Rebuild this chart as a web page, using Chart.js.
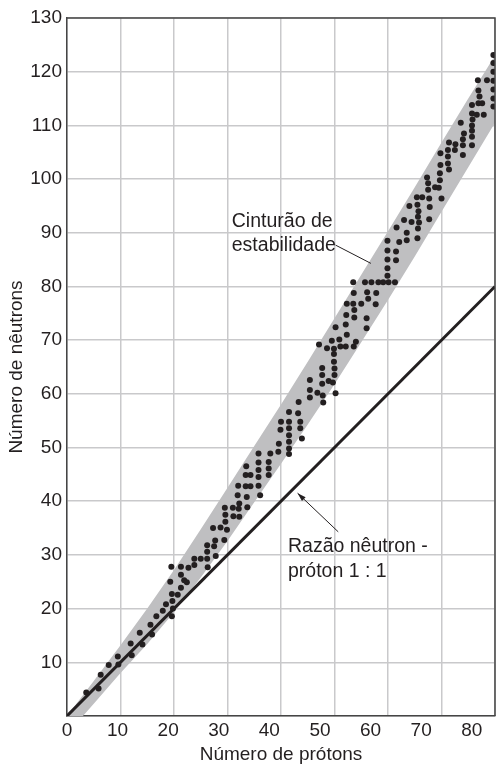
<!DOCTYPE html>
<html>
<head>
<meta charset="utf-8">
<script src="https://cdn.jsdelivr.net/npm/chart.js@4.4.1/dist/chart.umd.min.js"></script>
<style>
    html, body { margin: 0; padding: 0; background: #fff; }
</style>
</head>
<body>
<canvas id="chart" width="499" height="764"></canvas>
<script>
// stable nuclides (protons, neutrons)
const protons = [
    3.6, 5.9, 6.3, 7.8, 9.5, 9.6, 11.9, 12.1, 13.6, 14.1, 15.6, 15.9, 16.7, 17.9, 18.5, 19.6, 19.8, 19.7, 19.6, 20.7,
    19.3, 19.5, 21.3, 21.3, 21.9, 22.4, 21.3, 22.7,
    23.8, 23.8, 25.0, 26.2, 26.3, 27.8, 26.2, 27.5, 26.2, 27.7, 29.4, 27.3, 28.7, 29.9, 29.6, 29.6, 29.5, 31.0,
    31.1, 32.2, 32.1, 32.2, 33.7, 33.6, 31.9, 32.0, 33.4, 34.3, 33.4, 33.5, 34.3,
    35.8, 36.1, 35.8, 35.8, 35.8, 35.8, 37.7, 37.7, 37.7, 38.0, 39.5, 39.6, 39.9, 40.0, 41.5, 41.5, 41.5, 41.5,
    41.5, 41.5, 41.5, 43.2, 43.6, 43.6, 43.9, 43.3,
    45.4, 45.4, 45.4, 46.8, 47.9, 47.8, 47.7, 47.7, 47.7, 48.9, 49.7, 50.2, 50.0, 50.0, 49.9, 49.9, 49.9, 48.6,
    47.1, 49.5, 51.1, 52.1, 50.9, 52.3, 53.6, 54.0, 50.2, 52.1, 56.0, 52.2, 53.7, 56.0, 53.7, 52.3, 53.5, 55.0,
    57.7, 56.3, 56.1, 57.8, 53.6, 53.5, 55.7, 56.9, 58.2, 59.1, 60.1, 61.3, 59.9, 59.9, 59.9, 59.9, 59.9, 61.5, 61.5,
    62.1, 63.5, 61.6, 63.5, 63.0, 64.4, 65.5, 65.6, 65.8, 65.6, 65.7, 65.5, 64.0, 65.4, 66.4, 67.7, 67.8, 67.7,
    67.5, 67.5, 67.3, 68.8, 69.5, 70.0, 69.7, 69.7, 69.8, 69.8, 71.4, 71.2, 71.2, 71.2, 71.4, 72.5, 72.6, 74.0,
    74.0, 74.0, 74.2, 75.7, 75.7, 75.7, 75.7, 73.6, 75.8, 75.7, 76.6, 77.9, 75.7, 76.9, 77.6, 79.7, 77.1, 76.9,
    76.8, 78.5, 79.7, 79.7, 79.7, 79.7, 79.7, 79.7
]
const neutrons = [
    4.4, 5.1, 7.7, 9.5, 11.1, 9.6, 13.5, 11.3, 15.5, 13.3, 17.0, 15.2, 18.6, 19.6, 20.8, 18.6, 20.0, 21.4, 22.7, 22.6,
    25.0, 27.8, 27.8, 26.3, 25.3, 24.9, 23.9, 27.6,
    28.1, 29.3, 29.3, 29.3, 27.7, 29.8, 30.6, 31.6, 31.8, 32.7, 32.8, 35.0, 35.1, 34.7, 36.2, 37.5, 38.8, 38.8,
    37.2, 37.1, 38.6, 39.6, 38.9, 40.8, 41.1, 42.9, 42.8, 42.8, 44.9, 46.5, 44.9,
    42.9, 41.1, 44.5, 45.8, 47.2, 48.9, 44.9, 46.1, 47.3, 48.9, 49.2, 50.7, 53.3, 54.8, 56.6, 54.8, 53.6, 52.3,
    51.1, 49.8, 48.8, 56.4, 54.8, 53.6, 51.7, 58.5,
    59.3, 60.7, 62.6, 60.2, 58.4, 59.7, 61.9, 63.5, 64.8, 62.4, 62.1, 60.1, 63.5, 64.7, 66.0, 67.4, 68.4, 68.5,
    69.2, 69.9, 68.8, 68.8, 70.1, 71.0, 68.8, 69.7, 72.4, 72.9, 72.2, 74.7, 74.2, 74.1, 75.6, 76.8, 76.8, 76.8,
    76.7, 77.7, 78.9, 78.8, 78.8, 80.8, 80.8, 80.8, 80.8, 80.8, 80.8, 80.8, 82.0, 83.4, 85.0, 86.7, 88.5, 84.9, 86.5,
    88.3, 88.6, 91.0, 90.0, 92.4, 92.0, 89.0, 90.8, 91.9, 93.0, 94.0, 95.2, 95.0, 96.6, 96.6, 92.5, 94.8, 96.4,
    98.0, 99.2, 100.3, 98.5, 98.4, 96.4, 99.8, 101.1, 102.6, 104.8, 101.8, 102.9, 104.2, 105.4, 106.8, 105.4, 106.5, 104.5,
    106.3, 107.4, 108.5, 106.3, 107.9, 109.0, 110.0, 110.5, 111.1, 112.2, 112.0, 112.0, 113.8, 114.1, 114.1, 113.5, 115.4, 116.5,
    118.4, 118.4, 115.0, 116.7, 118.3, 120.0, 121.6, 123.1
]

// belt of stability, upper and lower edge
const bandX = [0, 5, 10, 15, 20, 25, 30, 35, 40, 45, 50, 55, 60, 65, 70, 75, 80]
const bandTop = [0, 6.5, 13.2, 20.0, 27.2, 34.8, 42.5, 50.3, 58.0, 66.0, 74.1, 82.2, 90.3, 98.5, 106.8, 115.0, 123.0]
const bandBottom = [-3.4, 2.3, 8.0, 13.4, 19.3, 25.8, 32.6, 39.8, 47.0, 54.3, 61.8, 69.6, 77.5, 85.6, 93.9, 102.2, 110.5]

// 1:1 line
const ratioX = [0, 80]
const ratioY = [0, 80]

const ink = '#231f20'
const gridColor = '#c9c9cb'
const bandColor = '#bfbfc1'

Chart.defaults.font.family = '"Liberation Sans", Arial, sans-serif'
Chart.defaults.color = ink

const notes = {
    id: 'notes',
    afterDatasetsDraw(chart) {
        const { ctx, chartArea, scales: { x, y } } = chart
        ctx.save()
        // frame on top and right
        ctx.strokeStyle = '#454545'
        ctx.lineWidth = 1.5
        ctx.beginPath()
        ctx.moveTo(chartArea.left, chartArea.top)
        ctx.lineTo(chartArea.right, chartArea.top)
        ctx.lineTo(chartArea.right, chartArea.bottom)
        ctx.stroke()

        ctx.fillStyle = ink
        ctx.font = '19.5px "Liberation Sans", Arial, sans-serif'
        ctx.textBaseline = 'middle'
        ctx.fillText('Cinturão de', x.getPixelForValue(30.8), y.getPixelForValue(92.0))
        ctx.fillText('estabilidade', x.getPixelForValue(30.8), y.getPixelForValue(87.6))
        ctx.fillText('Razão nêutron -', x.getPixelForValue(41.3), y.getPixelForValue(31.5))
        ctx.fillText('próton 1 : 1', x.getPixelForValue(41.3), y.getPixelForValue(26.8))

        ctx.strokeStyle = ink
        ctx.lineWidth = 1
        ctx.beginPath()
        ctx.moveTo(x.getPixelForValue(50.2), y.getPixelForValue(87.7))
        ctx.lineTo(x.getPixelForValue(56.8), y.getPixelForValue(84.3))
        ctx.stroke()

        // arrow to the 1:1 line
        const x0 = x.getPixelForValue(50.7), y0 = y.getPixelForValue(34.3)
        const x1 = x.getPixelForValue(43.1), y1 = y.getPixelForValue(41.5)
        ctx.beginPath()
        ctx.moveTo(x0, y0)
        ctx.lineTo(x1, y1)
        ctx.stroke()
        const a = Math.atan2(y1 - y0, x1 - x0)
        ctx.beginPath()
        ctx.moveTo(x1, y1)
        ctx.lineTo(x1 - 9 * Math.cos(a - 0.3), y1 - 9 * Math.sin(a - 0.3))
        ctx.lineTo(x1 - 9 * Math.cos(a + 0.3), y1 - 9 * Math.sin(a + 0.3))
        ctx.closePath()
        ctx.fill()
        ctx.restore()
    }
}

new Chart(document.getElementById('chart'), {
    type: 'scatter',
    data: {
        datasets: [
            {
                label: 'nuclídeos',
                data: protons.map((p, i) => ({ x: p, y: neutrons[i] })),
                pointRadius: 3,
                pointBackgroundColor: ink,
                pointBorderWidth: 0,
            },
            {
                type: 'line',
                label: '1:1',
                data: ratioX.map((p, i) => ({ x: p, y: ratioY[i] })),
                borderColor: ink,
                borderWidth: 3,
                pointRadius: 0,
                fill: false,
            },
            {
                type: 'line',
                label: 'topo',
                data: bandX.map((p, i) => ({ x: p, y: bandTop[i] })),
                borderWidth: 0,
                pointRadius: 0,
                fill: false,
            },
            {
                type: 'line',
                label: 'cinturão',
                data: bandX.map((p, i) => ({ x: p, y: bandBottom[i] })),
                borderWidth: 0,
                pointRadius: 0,
                backgroundColor: bandColor,
                fill: '-1',
            },
        ]
    },
    options: {
        responsive: false,
        animation: false,
        layout: { padding: { top: 18, right: 1, bottom: 0, left: 0 } },
        plugins: { legend: { display: false }, tooltip: { enabled: false } },
        scales: {
            x: {
                type: 'linear',
                position: 'bottom',
                min: 0,
                max: 80,
                ticks: { stepSize: 10, display: false },
                grid: { color: gridColor, lineWidth: 1.5, drawTicks: false },
                border: { color: '#454545', width: 1.5 },
                afterFit: (s) => { s.height = 0 },
            },
            x2: {
                type: 'linear',
                position: 'bottom',
                min: 0,
                max: 84.6,
                ticks: {
                    stepSize: 10,
                    includeBounds: false,
                    padding: 3,
                    font: { size: 19 },
                    color: ink,
                    callback: (v) => (v % 10 === 0 ? v : ''),
                },
                grid: { display: false, drawTicks: false },
                border: { display: false },
                title: {
                    display: true,
                    text: 'Número de prótons',
                    font: { size: 19, lineHeight: 1 },
                    padding: { top: 0, bottom: 0 },
                    color: ink,
                },
                afterFit: (s) => { s.height = 48 },
            },
            y: {
                min: 0,
                max: 130,
                ticks: {
                    stepSize: 10,
                    padding: 5,
                    font: { size: 19 },
                    color: ink,
                    callback: (v) => (v === 0 ? '' : v),
                },
                grid: { color: gridColor, lineWidth: 1.5, drawTicks: false },
                border: { color: '#454545', width: 1.5 },
                title: {
                    display: true,
                    text: 'Número de nêutrons',
                    font: { size: 19, lineHeight: 1 },
                    padding: { top: 7, bottom: 0 },
                    color: ink,
                },
                afterFit: (s) => { s.width = 67 },
            },
        }
    },
    plugins: [notes]
})
</script>
</body>
</html>
